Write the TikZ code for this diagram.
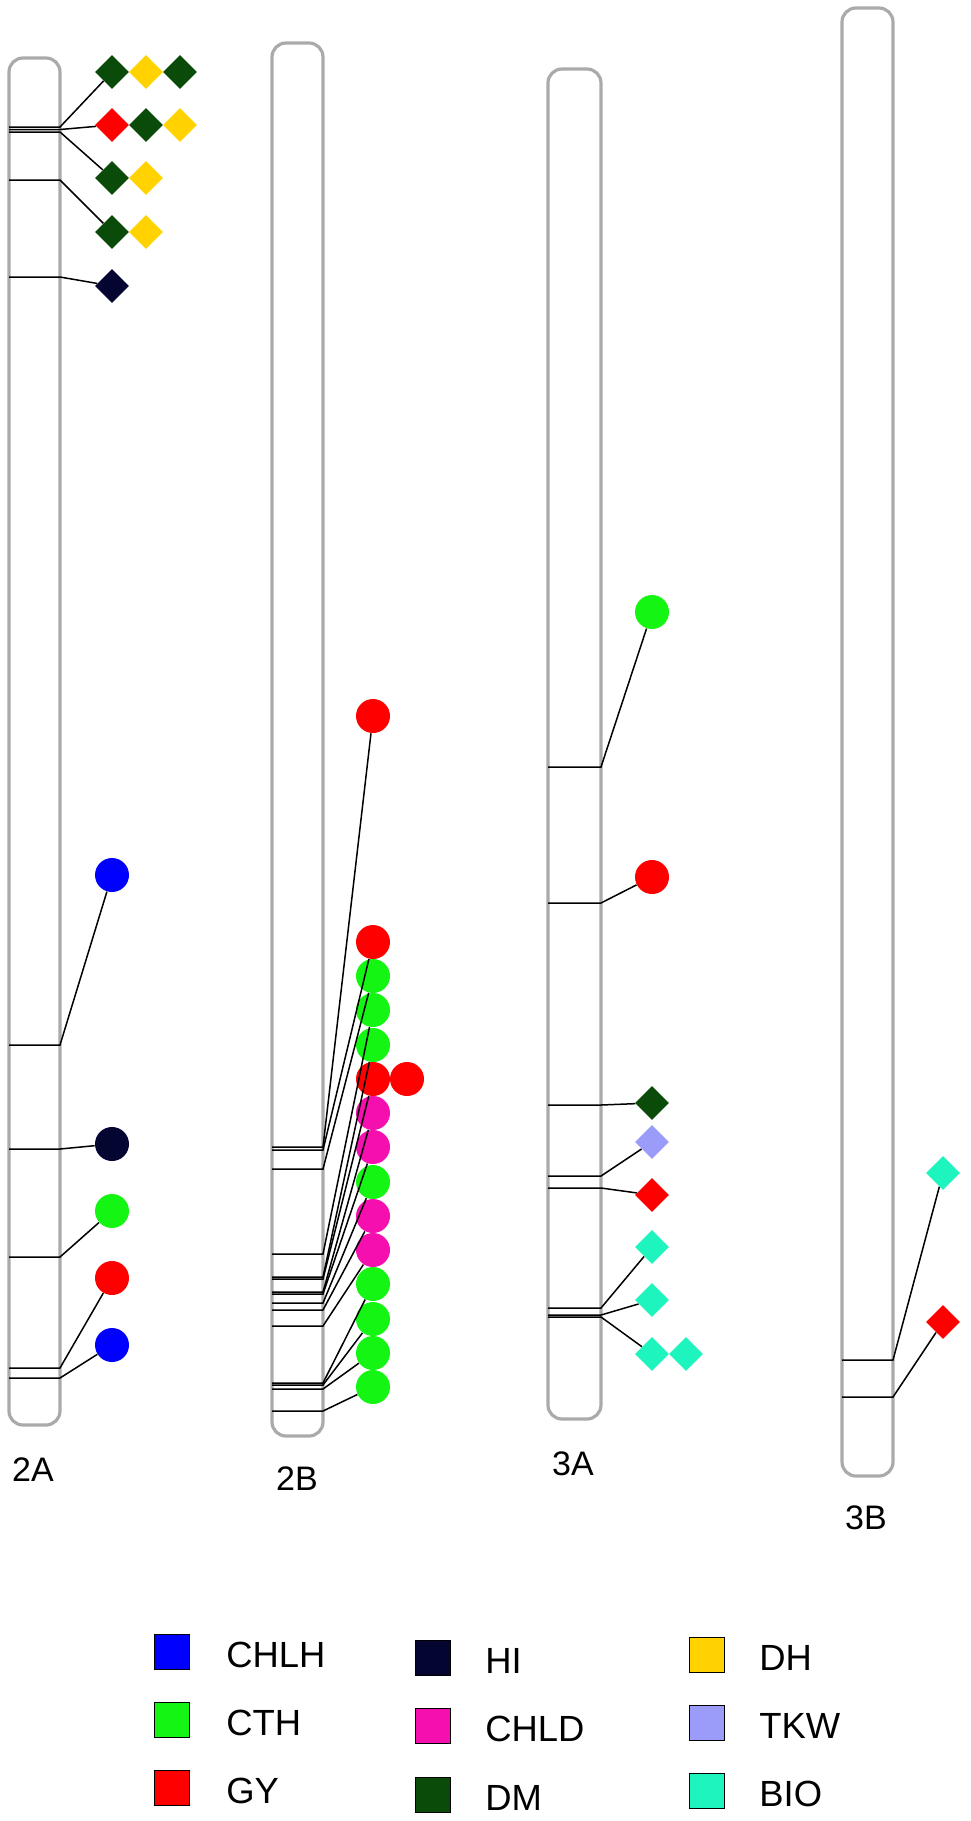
\documentclass[tikz,border=0pt]{standalone}
\usepackage{fontspec}
\setmainfont{Liberation Sans}
\usetikzlibrary{shapes.geometric}
\definecolor{cCHLH}{RGB}{0,0,255}
\definecolor{cCTH}{RGB}{20,245,20}
\definecolor{cGY}{RGB}{255,0,0}
\definecolor{cHI}{RGB}{5,5,50}
\definecolor{cCHLD}{RGB}{245,15,175}
\definecolor{cDM}{RGB}{10,75,10}
\definecolor{cDH}{RGB}{255,210,0}
\definecolor{cTKW}{RGB}{155,155,250}
\definecolor{cBIO}{RGB}{30,245,190}
\definecolor{chromgray}{RGB}{170,170,170}
\tikzset{
 chrom/.style={draw=chromgray, line width=1.6pt, rounded corners=7pt},
 locus/.style={draw=black, line width=0.75pt},
 circ/.style={circle, inner sep=0pt, minimum size=17pt, fill=#1},
 diam/.style={diamond, inner sep=0pt, minimum width=17pt, minimum height=17pt, fill=#1},
 leg/.style={draw=black, line width=0.5pt, minimum width=17.5pt, minimum height=17.5pt, inner sep=0pt, fill=#1},
 legtext/.style={anchor=west, font=\fontsize{18.2}{20}\selectfont, inner sep=0pt},
 chromlabel/.style={font=\fontsize{17}{19}\selectfont, inner sep=0pt},
}
\newcommand\lc[5]{%
 \coordinate (#1l) at (#2,#4); \coordinate (#1r) at (#3,#4);
 \draw[locus] (#1l) -- (#1r) -- (#5);}
\begin{document}
\begin{tikzpicture}[x=0.5pt,y=-0.5pt]
\useasboundingbox (0,0) rectangle (970,1821);
% chromosomes
\draw[chrom] (9,58) rectangle (60,1425);
\draw[chrom] (272,43) rectangle (323,1436);
\draw[chrom] (548,69) rectangle (601,1419);
\draw[chrom] (842,8) rectangle (893,1476);
% labels
\node[chromlabel] (l2A) at (33,1470) {2A};
\node[chromlabel] (l2B) at (297,1479) {2B};
\node[chromlabel] (l3A) at (573,1464) {3A};
\node[chromlabel] (l3B) at (866,1518) {3B};
% 2A markers
\node[diam=cDM] (a1) at (112,72) {};
\node[diam=cDH] (a1b) at (146,72) {};
\node[diam=cDM] (a1c) at (180,72) {};
\node[diam=cGY] (a2) at (112,125) {};
\node[diam=cDM] (a2b) at (146,125) {};
\node[diam=cDH] (a2c) at (180,125) {};
\node[diam=cDM] (a3) at (112,178) {};
\node[diam=cDH] (a3b) at (146,178) {};
\node[diam=cDM] (a4) at (112,232) {};
\node[diam=cDH] (a4b) at (146,232) {};
\node[diam=cHI] (a5) at (112,286) {};
\node[circ=cCHLH] (a6) at (112,875) {};
\node[circ=cHI] (a7) at (112,1144) {};
\node[circ=cCTH] (a8) at (112,1211) {};
\node[circ=cGY] (a9) at (112,1278) {};
\node[circ=cCHLH] (a10) at (112,1345) {};
\lc{la1}{9}{60}{127}{a1}
\lc{la2}{9}{60}{129.5}{a2}
\lc{la3}{9}{60}{132}{a3}
\lc{la4}{9}{60}{180}{a4}
\lc{la5}{9}{60}{277}{a5}
\lc{la6}{9}{60}{1045}{a6}
\lc{la7}{9}{60}{1149}{a7}
\lc{la8}{9}{60}{1257}{a8}
\lc{la9}{9}{60}{1368}{a9}
\lc{la10}{9}{60}{1378}{a10}
% 2B markers
\node[circ=cGY] (b1) at (373,716) {};
\node[circ=cGY] (b2) at (373,942) {};
\node[circ=cCTH] (b3) at (373,976) {};
\node[circ=cCTH] (b4) at (373,1010) {};
\node[circ=cCTH] (b5) at (373,1045) {};
\node[circ=cGY] (b6) at (373,1079) {};
\node[circ=cGY] (b6b) at (407,1079) {};
\node[circ=cCHLD] (b7) at (373,1113) {};
\node[circ=cCHLD] (b8) at (373,1147) {};
\node[circ=cCTH] (b9) at (373,1182) {};
\node[circ=cCHLD] (b10) at (373,1216) {};
\node[circ=cCHLD] (b11) at (373,1250) {};
\node[circ=cCTH] (b12) at (373,1284) {};
\node[circ=cCTH] (b13) at (373,1319) {};
\node[circ=cCTH] (b14) at (373,1353) {};
\node[circ=cCTH] (b15) at (373,1387) {};
\lc{lb1}{272}{323}{1147}{b1}
\lc{lb2}{272}{323}{1150}{b2}
\lc{lb3}{272}{323}{1169}{b3}
\lc{lb4}{272}{323}{1254}{b4}
\lc{lb5}{272}{323}{1277}{b5}
\lc{lb6}{272}{323}{1279}{b6}
\lc{lb7}{272}{323}{1292}{b7}
\lc{lb8}{272}{323}{1294}{b8}
\lc{lb9}{272}{323}{1303}{b9}
\lc{lb10}{272}{323}{1310}{b10}
\lc{lb11}{272}{323}{1326}{b11}
\lc{lb12}{272}{323}{1383}{b12}
\lc{lb13}{272}{323}{1385}{b13}
\lc{lb14}{272}{323}{1389}{b14}
\lc{lb15}{272}{323}{1411}{b15}
% 3A markers
\node[circ=cCTH] (c1) at (652,612) {};
\node[circ=cGY] (c2) at (652,877) {};
\node[diam=cDM] (c3) at (652,1103) {};
\node[diam=cTKW] (c4) at (652,1142) {};
\node[diam=cGY] (c5) at (652,1195) {};
\node[diam=cBIO] (c6) at (652,1247) {};
\node[diam=cBIO] (c7) at (652,1300) {};
\node[diam=cBIO] (c8) at (652,1354) {};
\node[diam=cBIO] (c8b) at (686,1354) {};
\lc{lc1}{548}{601}{767}{c1}
\lc{lc2}{548}{601}{903}{c2}
\lc{lc3}{548}{601}{1105}{c3}
\lc{lc4}{548}{601}{1176}{c4}
\lc{lc5}{548}{601}{1188}{c5}
\lc{lc6}{548}{601}{1308}{c6}
\lc{lc7}{548}{601}{1315}{c7}
\lc{lc8}{548}{601}{1317}{c8}
% 3B markers
\node[diam=cBIO] (d1) at (943,1173) {};
\node[diam=cGY] (d2) at (943,1322) {};
\lc{ld1}{842}{893}{1360}{d1}
\lc{ld2}{842}{893}{1397}{d2}
% legend
\node[leg=cCHLH] (k1) at (172,1652) {};
\node[legtext] (t1) at (226,1655) {CHLH};
\node[leg=cCTH] (k2) at (172,1720) {};
\node[legtext] (t2) at (226,1723) {CTH};
\node[leg=cGY] (k3) at (172,1788) {};
\node[legtext] (t3) at (226,1791) {GY};
\node[leg=cHI] (k4) at (433,1658) {};
\node[legtext] (t4) at (485,1661) {HI};
\node[leg=cCHLD] (k5) at (433,1726) {};
\node[legtext] (t5) at (485,1729) {CHLD};
\node[leg=cDM] (k6) at (433,1795) {};
\node[legtext] (t6) at (485,1798) {DM};
\node[leg=cDH] (k7) at (707,1655) {};
\node[legtext] (t7) at (759,1658) {DH};
\node[leg=cTKW] (k8) at (707,1723) {};
\node[legtext] (t8) at (759,1726) {TKW};
\node[leg=cBIO] (k9) at (707,1791) {};
\node[legtext] (t9) at (759,1794) {BIO};
\end{tikzpicture}
\end{document}
